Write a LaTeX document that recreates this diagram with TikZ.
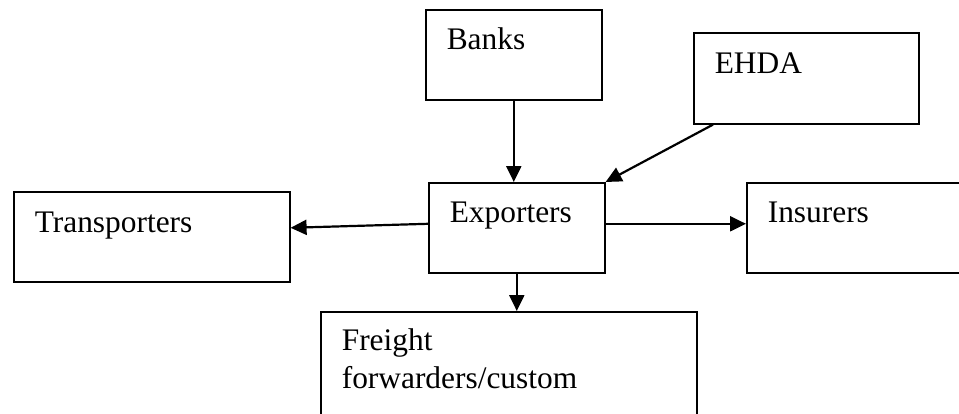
\documentclass[tikz,border=0pt]{standalone}
\usepackage{fontspec}
\setmainfont{Liberation Serif}
\usetikzlibrary{arrows.meta,positioning}

\tikzset{
    box/.style={draw,line width=0.8pt,anchor=north west,align=left,
        inner xsep=10.5pt,inner ysep=0pt,text height=20pt,text depth=25pt}
}

\begin{document}
\begin{tikzpicture}[x=0.5pt,y=-0.5pt,->,>={Triangle[length=8pt,width=7.5pt]},
    line width=1.1pt,font=\fontsize{15.7pt}{19pt}\selectfont]
    \clip (0,0) rectangle (959,413);

    \node [box,text width=67pt] (banks) at (425,9) {Banks};
    \node [box,text width=91.5pt,text height=20.5pt] (ehda) at (693,32) {EHDA};
    \node [box,text width=67pt] (exporters) at (428,182) {Exporters};
    \node [box,text width=117pt,text height=20.5pt,text depth=24.5pt] (transporters) at (13,191) {Transporters};
    \node [box,text width=99pt] (insurers) at (746,182) {Insurers};
    \node [box,text width=167pt,text height=19.5pt,text depth=60pt] (freight) at (320,311) {Freight\\forwarders/custom};

    \path
        (banks.south) edge (banks.south |- exporters.north)
        ([xshift=10pt]ehda.south west) edge (exporters.north east)
        ([yshift=2pt]exporters.west) edge ([yshift=4.5pt]transporters.east)
        ([yshift=2pt]exporters.east) edge ([yshift=2pt]insurers.west)
        (exporters.south) edge (exporters.south |- freight.north)
    ;
\end{tikzpicture}
\end{document}
